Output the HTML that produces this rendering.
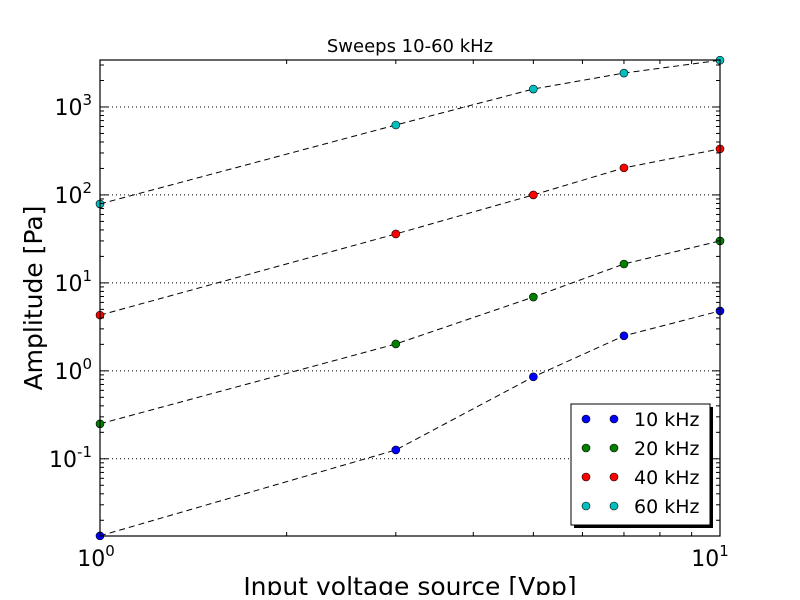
<!DOCTYPE html>
<html><head><meta charset="utf-8"><style>
body{margin:0;background:#fff;width:800px;height:595px;overflow:hidden}
text{font-family:"DejaVu Sans","Liberation Sans",sans-serif}
</style></head><body>
<svg id="chart" width="800" height="595" xmlns="http://www.w3.org/2000/svg">
<rect width="800" height="595" fill="#fff"/>
<g id="grid"></g><g id="series"></g><g id="axes"></g><g id="legend"></g>
</svg>
<script>
const xVals=[1,3,5,7,10];
const s10=[0.0133,0.126,0.855,2.5,4.8];
const s20=[0.25,2.02,6.9,16.4,30];
const s40=[4.3,36,100,203,334];
const s60=[79,624,1600,2430,3400];
const seriesNames=['10 kHz','20 kHz','40 kHz','60 kHz'];
const seriesColors=['#0000ff','#007f00','#ff0000','#00bfbf'];
const yTickExps=[-1,0,1,2,3];
const L=100,R=720,T=60,B=536;
const yMin=Math.log10(0.01325),yMax=3+47/88;
const X=v=>L+(R-L)*Math.log10(v);
const Y=v=>B-(B-T)*(Math.log10(v)-yMin)/(yMax-yMin);
const NS='http://www.w3.org/2000/svg';
function mk(p,t,a){const e=document.createElementNS(NS,t);for(const k in a)e.setAttribute(k,a[k]);p.appendChild(e);return e;}
const grid=document.getElementById('grid'),ser=document.getElementById('series'),ax=document.getElementById('axes'),lg=document.getElementById('legend');
yTickExps.forEach(e=>{const y=Y(Math.pow(10,e));
 const g=mk(grid,'line',{x1:L,x2:R,y1:y,y2:y,stroke:'#000','stroke-width':1,'stroke-dasharray':'1,3'});
 
 
 const t=mk(ax,'text',{x:L-8,y:y+8,'text-anchor':'end','font-size':22});
 
 
 t.innerHTML='10<tspan dy="-10" font-size="15">'+e+'</tspan>';
 mk(ax,'line',{x1:L,x2:L+8,y1:y,y2:y,stroke:'#000'});mk(ax,'line',{x1:R,x2:R-8,y1:y,y2:y,stroke:'#000'});
});
for(let e=-2;e<=3;e++)for(let m=2;m<=9;m++){const v=m*Math.pow(10,e);if(Math.log10(v)<yMin||Math.log10(v)>yMax)continue;const y=Y(v);
 mk(ax,'line',{x1:L,x2:L+4,y1:y,y2:y,stroke:'#000'});mk(ax,'line',{x1:R,x2:R-4,y1:y,y2:y,stroke:'#000'});}
for(let m=2;m<=9;m++){const x=X(m);mk(ax,'line',{x1:x,x2:x,y1:B,y2:B-4,stroke:'#000'});mk(ax,'line',{x1:x,x2:x,y1:T,y2:T+4,stroke:'#000'});}
[1,10].forEach((v,i)=>{const t=mk(ax,'text',{x:X(v)-(i?10:4),y:B+30,'text-anchor':'middle','font-size':22});
 
 
 t.innerHTML='10<tspan dy="-10" font-size="15">'+i+'</tspan>';});
const all=[s10,s20,s40,s60];
all.forEach((s,i)=>{
 const pl=mk(ser,'polyline',{points:s.map((v,j)=>X(xVals[j])+','+Y(v)).join(' '),fill:'none',stroke:'#000','stroke-dasharray':'6,4'});
 
 
 s.forEach((v,j)=>{const c=mk(ser,'circle',{cx:X(xVals[j]),cy:Y(v),r:4,fill:seriesColors[i],stroke:'#000','stroke-width':0.6});
  
  });
});
const fr=mk(ax,'rect',{x:L,y:T,width:R-L,height:B-T,fill:'none',stroke:'#000','stroke-width':1.2});


const tt=mk(ax,'text',{x:410,y:52,'text-anchor':'middle','font-size':18});tt.textContent='Sweeps 10-60 kHz';


const yl=mk(ax,'text',{x:0,y:0,'text-anchor':'middle','font-size':25,transform:'translate(42,298) rotate(-90)'});yl.textContent='Amplitude [Pa]';


const xl=mk(ax,'text',{x:410,y:595,'text-anchor':'middle','font-size':25});xl.textContent='Input voltage source [Vpp]';


mk(lg,'rect',{x:574,y:407,width:139,height:121,fill:'#000'});
const lb=mk(lg,'rect',{x:571,y:404,width:139,height:121,fill:'#fff',stroke:'#000','stroke-width':1});


seriesNames.forEach((n,i)=>{const y=419+i*29;
 mk(lg,'circle',{cx:586,cy:y,r:4,fill:seriesColors[i],stroke:'#000','stroke-width':0.6});
 mk(lg,'circle',{cx:614,cy:y,r:4,fill:seriesColors[i],stroke:'#000','stroke-width':0.6});
 const t=mk(lg,'text',{x:634,y:y+7,'font-size':19});t.textContent=n;
 
 });
</script>
</body></html>
